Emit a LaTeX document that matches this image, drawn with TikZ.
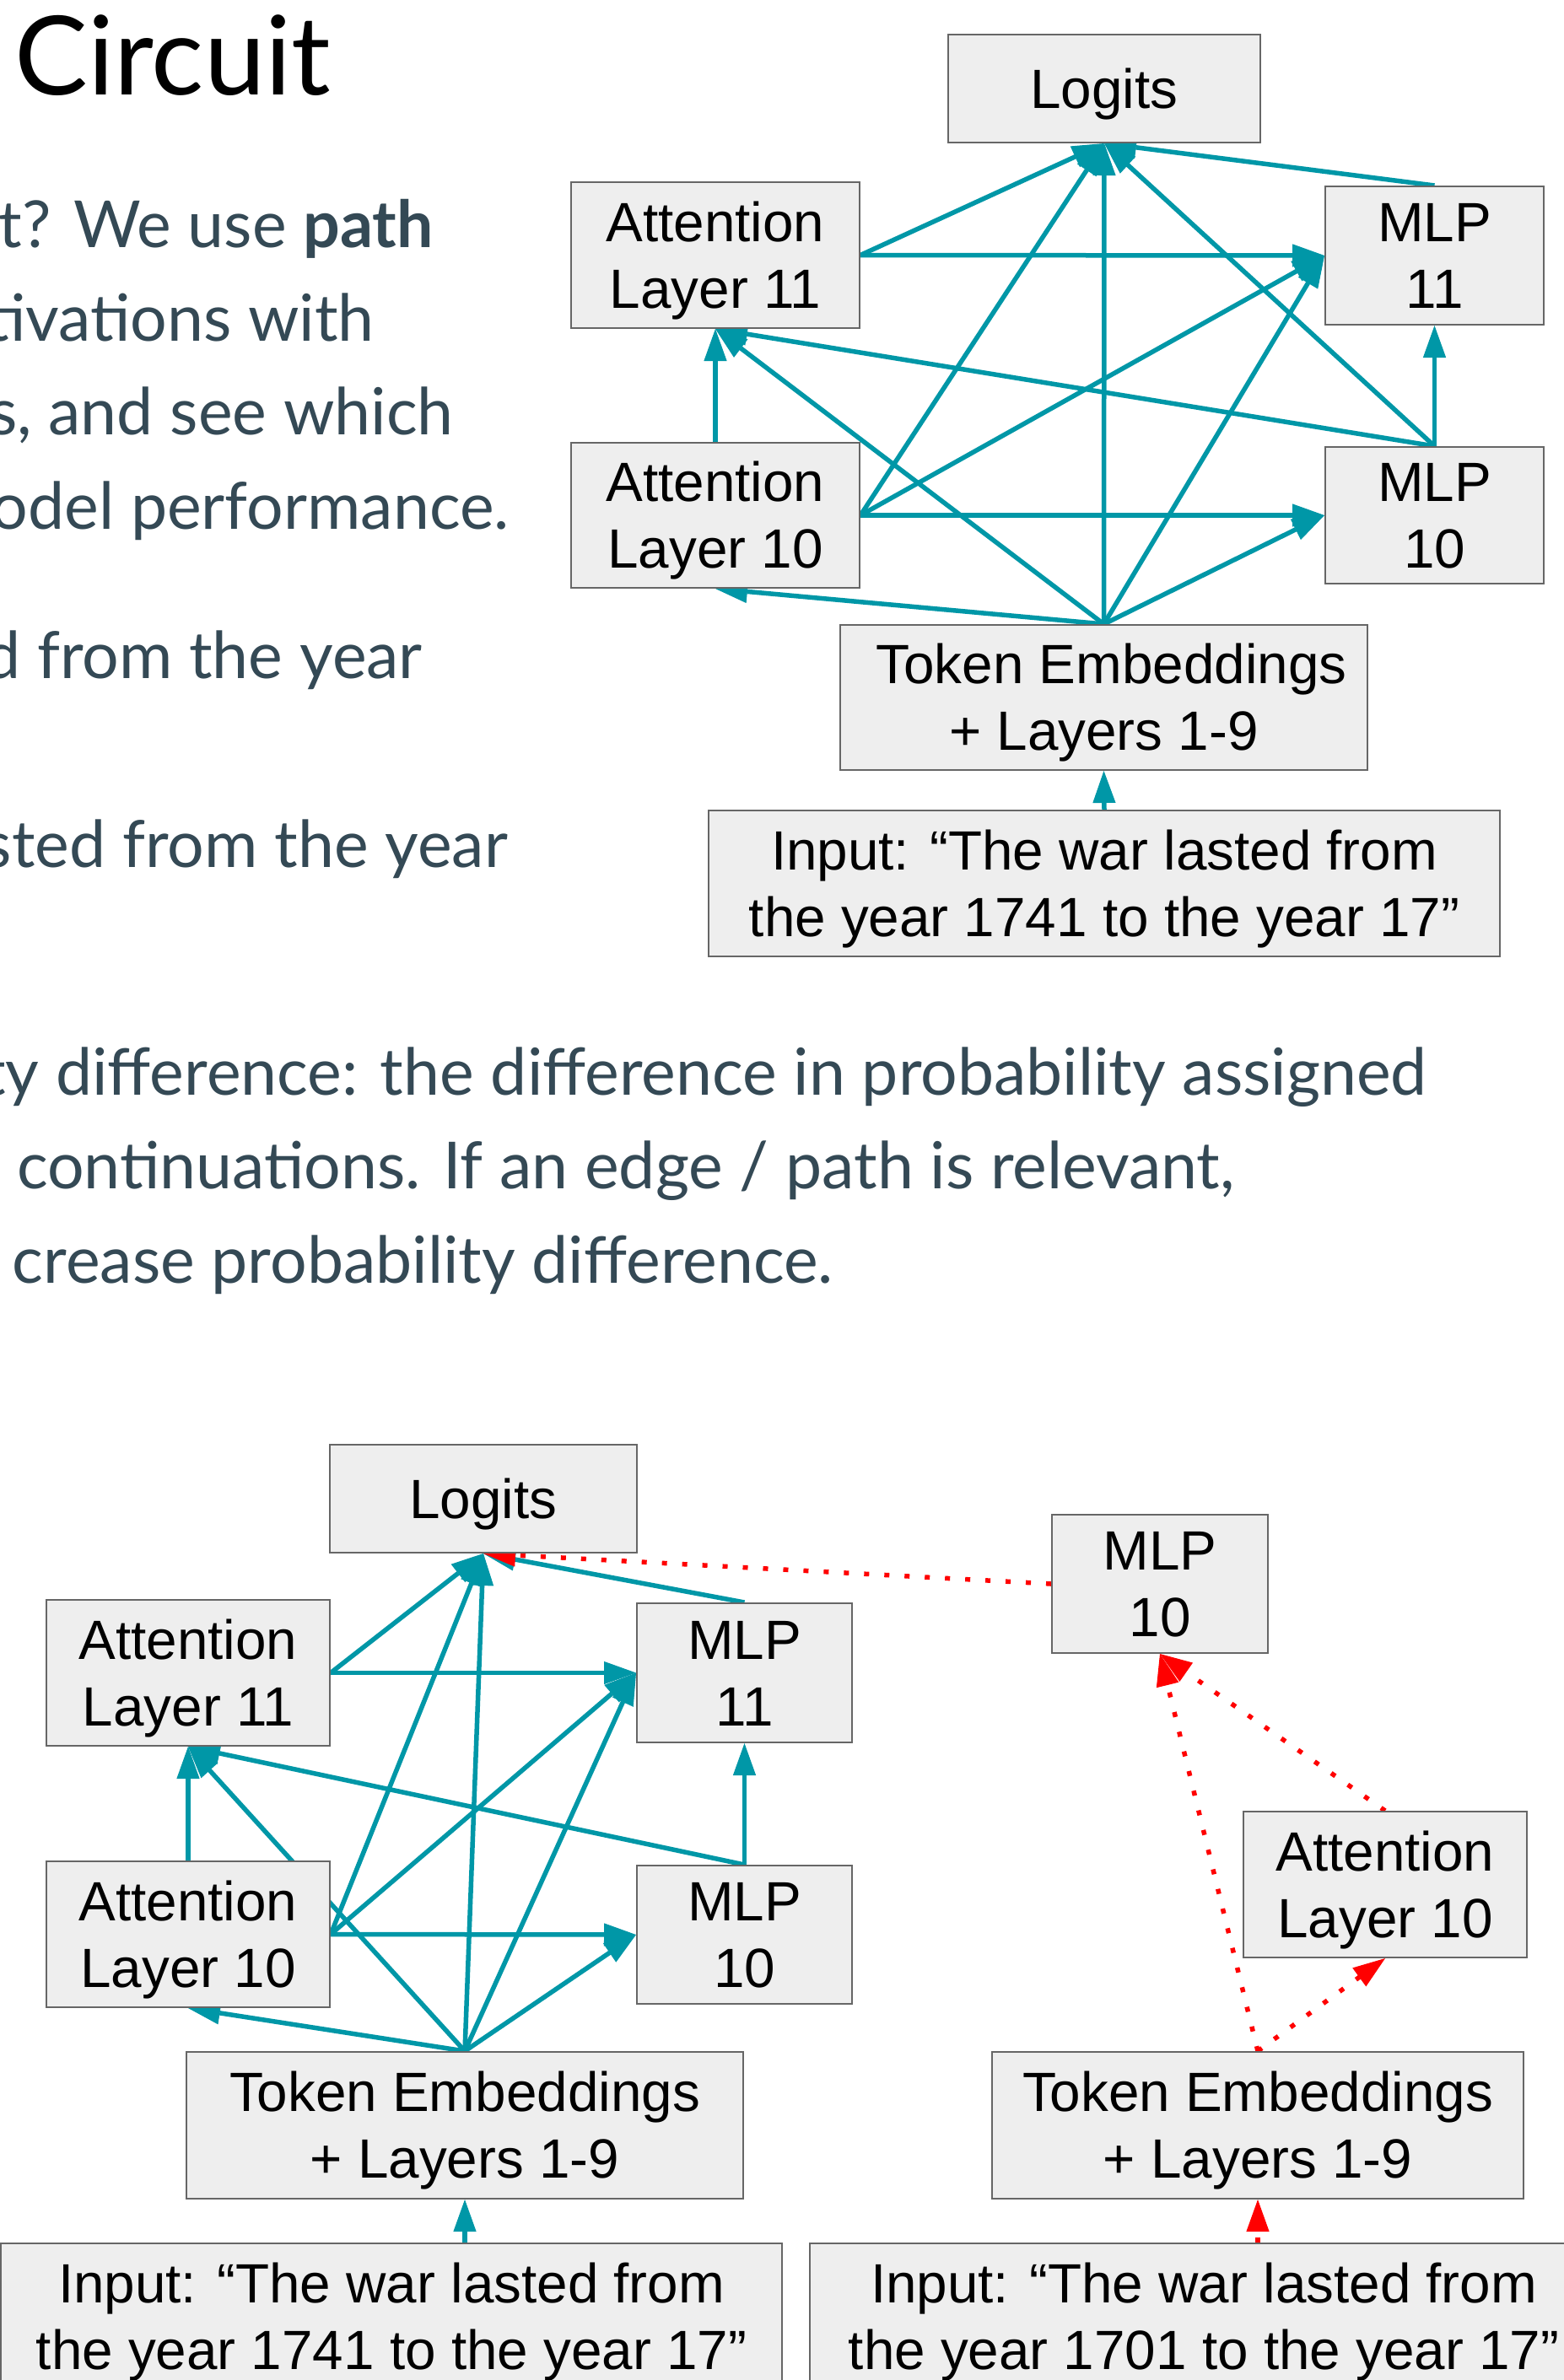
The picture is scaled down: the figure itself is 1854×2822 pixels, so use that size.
\documentclass[tikz,border=0pt]{standalone}
\usepackage{fontspec}
\setmainfont{Lato}
\newfontfamily\arialf{Liberation Sans}
\usetikzlibrary{arrows.meta,backgrounds}
\definecolor{cyanline}{HTML}{0097A7}
\definecolor{boxfill}{HTML}{EEEEEE}
\definecolor{boxline}{HTML}{666666}
\definecolor{bodytext}{HTML}{344955}
\definecolor{patchred}{HTML}{FF0000}
\newcommand\onel[1]{\rule{0pt}{60pt}#1\rule[-14pt]{0pt}{0pt}}
\newcommand\twol[2]{\rule{0pt}{60pt}#1\\#2\rule[-14pt]{0pt}{0pt}}
\tikzset{
  box/.style={draw=boxline, fill=boxfill, line width=2pt, inner sep=0pt, align=center,
    font=\arialf\fontsize{65.6}{79}\selectfont},
  conn/.style={draw=cyanline, line width=5.5pt, -{Triangle[length=38pt,width=27pt,line width=1pt]}},
  patch/.style={draw=patchred, line width=5.5pt, dash pattern=on 6pt off 18pt, -{Triangle[length=38pt,width=27pt,line width=1pt]}},
  body/.style={anchor=base east, inner sep=0pt, text=bodytext, font=\fontsize{77}{111}\selectfont},
  titletext/.style={anchor=base west, inner sep=0pt, text=black, font=\fontsize{130}{150}\selectfont}
}
\begin{document}
\begin{tikzpicture}[x=1pt,y=-1pt]
\useasboundingbox (0,0) rectangle (1854,2822);
\begin{scope}[on background layer]
\fill[white] (0,0) rectangle (1854,2822);
\end{scope}
\clip (0,0) rectangle (1854,2822);

% slide text
\node[titletext] (title) at (17,112) {Circuit};
\node[body] (b1) at (514,293) {it? We use \textbf{path}};
\node[body] (b2) at (444,404) {tivations with};
\node[body] (b3) at (538,515) {s, and see which};
\node[body] (b4) at (604,627) {odel performance.};
\node[body] (b5) at (501,804) {d from the year};
\node[body] (b6) at (602,1028) {sted from the year};
\node[body] (b7) at (1692,1298) {ty difference: the difference in probability assigned};
\node[body] (b8) at (1464,1409) {r continuations. If an edge / path is relevant,};
\node[body] (b9) at (988,1521) {crease probability difference.};

% top diagram
\node[box, minimum width=370pt, minimum height=128pt] (lt) at (1309,105) {\onel{Logits}};
\node[box, minimum width=342pt, minimum height=173pt] (a11t) at (848,302.5) {\twol{Attention}{Layer 11}};
\node[box, minimum width=259pt, minimum height=164pt] (m11t) at (1700.5,303) {\twol{MLP}{11}};
\node[box, minimum width=342pt, minimum height=172pt] (a10t) at (848,611) {\twol{Attention}{Layer 10}};
\node[box, minimum width=259pt, minimum height=162pt] (m10t) at (1700.5,611) {\twol{MLP}{10}};
\node[box, minimum width=625pt, minimum height=172pt] (tt) at (1308.5,827) {\twol{\ Token Embeddings}{+ Layers 1-9}};
\node[box, minimum width=938pt, minimum height=173pt] (it) at (1309,1047.5) {\twol{Input: “The war lasted from}{the year 1741 to the year 17”}};

\begin{scope}[on background layer]
\draw[conn] (a11t.east) -- (lt.south);
\draw[conn] (a11t.east) -- (m11t.west);
\draw[conn] (a10t.east) -- (lt.south);
\draw[conn] (a10t.east) -- (m11t.west);
\draw[conn] (a10t.east) -- (m10t.west);
\draw[conn] (a10t.north) -- (a11t.south);
\draw[conn] (tt.north) -- (a10t.south);
\draw[conn] (tt.north) -- (a11t.south);
\draw[conn] (tt.north) -- (lt.south);
\draw[conn] (tt.north) -- (m11t.west);
\draw[conn] (tt.north) -- (m10t.west);
\draw[conn] (m10t.north) -- (a11t.south);
\draw[conn] (m10t.north) -- (m11t.south);
\draw[conn] (m10t.north) -- (lt.south);
\draw[conn] (m11t.north) -- (lt.south);
\draw[conn] (it.north) -- (tt.south);
\end{scope}

% bottom-left diagram
\node[box, minimum width=364pt, minimum height=128pt] (ll) at (573,1777) {\onel{Logits}};
\node[box, minimum width=336pt, minimum height=173pt] (a11l) at (223,1983.5) {\twol{Attention}{Layer 11}};
\node[box, minimum width=255pt, minimum height=165pt] (m11l) at (882.5,1983.5) {\twol{MLP}{11}};
\node[box, minimum width=336pt, minimum height=173pt] (a10l) at (223,2293.5) {\twol{Attention}{Layer 10}};
\node[box, minimum width=255pt, minimum height=164pt] (m10l) at (882.5,2294) {\twol{MLP}{10}};
\node[box, minimum width=660pt, minimum height=174pt] (tl) at (551,2520) {\twol{Token Embeddings}{+ Layers 1-9}};
\node[box, minimum width=926pt, minimum height=173pt] (il) at (464,2746.5) {\twol{Input: “The war lasted from}{the year 1741 to the year 17”}};

% bottom-right diagram
\node[box, minimum width=256pt, minimum height=164pt] (m10r) at (1375,1878) {\twol{MLP}{10}};
\node[box, minimum width=336pt, minimum height=173pt] (a10r) at (1642,2234.5) {\twol{Attention}{Layer 10}};
\node[box, minimum width=630pt, minimum height=174pt] (tr) at (1491,2520) {\twol{Token Embeddings}{+ Layers 1-9}};
\node[box, minimum width=934pt, minimum height=173pt] (ir) at (1427,2746.5) {\twol{Input: “The war lasted from}{the year 1701 to the year 17”}};

\begin{scope}[on background layer]
\draw[conn] (a11l.east) -- (ll.south);
\draw[conn] (a11l.east) -- (m11l.west);
\draw[conn] (a10l.east) -- (ll.south);
\draw[conn] (a10l.east) -- (m11l.west);
\draw[conn] (a10l.east) -- (m10l.west);
\draw[conn] (a10l.north) -- (a11l.south);
\draw[conn] (tl.north) -- (a10l.south);
\draw[conn] (tl.north) -- (a11l.south);
\draw[conn] (tl.north) -- (ll.south);
\draw[conn] (tl.north) -- (m11l.west);
\draw[conn] (tl.north) -- (m10l.west);
\draw[conn] (m10l.north) -- (a11l.south);
\draw[conn] (m10l.north) -- (m11l.south);
\draw[conn] (m11l.north) -- (ll.south);
\draw[conn] (il.north -| tl.south) -- (tl.south);
\draw[patch] (m10r.west) -- (ll.south);
\draw[patch] (tr.north) -- (m10r.south);
\draw[patch] (tr.north) -- (a10r.south);
\draw[patch] (a10r.north) -- (m10r.south);
\draw[patch] (ir.north -| tr.south) -- (tr.south);
\end{scope}
\end{tikzpicture}
\end{document}
